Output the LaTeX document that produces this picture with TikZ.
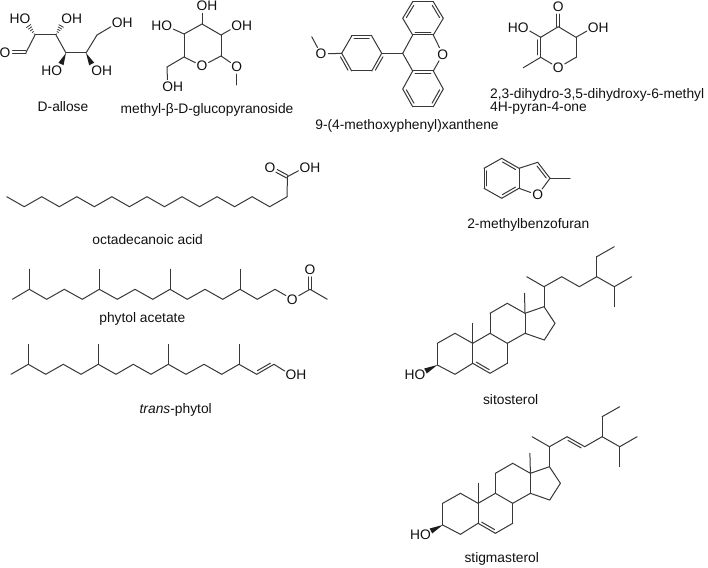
\documentclass[tikz,border=0pt]{standalone}
\usepackage{fontspec}
\setmainfont{Liberation Sans}
\usetikzlibrary{calc}
\definecolor{bondc}{HTML}{383838}
\definecolor{textc}{HTML}{111111}
\tikzset{
  bond/.style={draw=bondc,line width=1pt,line cap=round,line join=round},
  atom/.style={circle,inner sep=0pt,minimum size=14pt,text=textc,font=\fontsize{13.8}{15}\selectfont},
  lbl/.style={inner sep=0pt,text=textc,font=\fontsize{13.8}{15}\selectfont,text height=9.7pt,text depth=2.8pt},
}
% double bond, inner line to the left / right of the direction a->b (on screen)
\newcommand{\dbll}[2]{\draw[bond] (#1) -- (#2);
  \draw[bond,shorten <=2.5pt,shorten >=2.5pt] ($(#1)!2.8pt!90:(#2)$) -- ($(#2)!2.8pt!-90:(#1)$);}
\newcommand{\dblr}[2]{\draw[bond] (#1) -- (#2);
  \draw[bond,shorten <=2.5pt,shorten >=2.5pt] ($(#1)!2.8pt!-90:(#2)$) -- ($(#2)!2.8pt!90:(#1)$);}
% centred double bond from carbon to a labelled oxygen
\newcommand{\dco}[2]{
  \draw[bond,shorten >=7.5pt] ($(#1)!1.5pt!90:(#2)$) -- ($(#2)!1.5pt!-90:(#1)$);
  \draw[bond,shorten >=7.5pt] ($(#1)!1.5pt!-90:(#2)$) -- ($(#2)!1.5pt!90:(#1)$);}
% solid wedge and hashed wedge from a to b
\newcommand{\wdg}[2]{\fill[bondc!50!black] (#1) -- ($(#2)!2.8pt!90:(#1)$) -- ($(#2)!2.8pt!-90:(#1)$) -- cycle;}
\newcommand{\hsh}[2]{\foreach \t in {0.1,0.3,0.5,0.7,0.9}{
  \pgfmathsetmacro{\w}{2.9*\t+0.2}
  \coordinate (hp) at ($(#1)!\t!(#2)$);
  \draw[draw=bondc,line width=0.8pt] ($(hp)!\w pt!90:(#2)$) -- ($(hp)!\w pt!-90:(#2)$);}}
% chain through named coordinates
\newcommand{\pts}[2]{\foreach \n/\x/\y in {#2}{\coordinate (#1\n) at (\x,\y);}}
\newcommand{\bonds}[2]{\foreach \a/\b in {#2}{\draw[bond] (#1\a) -- (#1\b);}}
% steroid skeleton: prefix, shift, bond C22-C23
\newcommand{\steroid}[3]{
 \begin{scope}[shift={(#2)}]
  \pts{#1}{2/437.3/343.3,3/437.3/365,1/455/333.3,10/472.7/343.3,19/472.7/323.3,5/472.7/363.3,4/455/374.3,
   6/490/373.3,7/507.3/363.3,8/507.3/343.3,9/490/333.3,11/490/313.3,12/507.3/303.3,13/525/313.3,18/524.5/293.3,
   14/525/333.3,15/544.3/340,16/555/323.3,17/544/306.7,20/544/286.7,21/526.7/276.7,22/561.7/276.7,23/579.3/286.7,
   24/596.7/276.7,28/596.7/256.7,29/614.3/246.7,25/614.3/286.7,26/631.7/276.7,27/614.3/306.7,w/425.5/371}
 \end{scope}
 \bonds{#1}{3/2,2/1,1/10,10/19,10/5,3/4,4/5,6/7,7/8,8/9,9/10,9/11,11/12,12/13,13/18,13/14,14/8,14/15,15/16,16/17,17/13,17/20,20/21,20/22,23/24,24/28,28/29,24/25,25/26,25/27}
 \dbll{#15}{#16}
 #3
 \wdg{#13}{#1w}
}
\begin{document}
\begin{tikzpicture}[x=1pt,y=-1pt]
\useasboundingbox (0,0) rectangle (708,567);

% ---------- D-allose
\pts{al}{1/26/52.5,2/35/35,3/56/35,4/66/53,5/86/53,6/97/35,h2/28/25,h3/61.7/25,w4/61/64,w5/91.7/64}
\node[atom] (alO) at (5,52.5) {O};
\node[atom] (alO2) at (25,19) {\llap{H}O};
\node[atom] (alO3) at (66.7,19) {O\rlap{H}};
\node[atom] (alO4) at (56.7,71) {\llap{H}O};
\node[atom] (alO5) at (96.7,71) {O\rlap{H}};
\node[atom] (alO6) at (117.3,23) {O\rlap{H}};
\dco{al1}{alO}
\bonds{al}{1/2,2/3,3/4,4/5,5/6}
\draw[bond] (al6) -- (alO6);
\hsh{al2}{alh2} \hsh{al3}{alh3}
\wdg{al4}{alw4} \wdg{al5}{alw5}
\node[lbl] (allose) at (63,108) {D-allose};

% ---------- methyl-beta-D-glucopyranoside
\pts{gl}{1/221/56,2/221/35,3/202/24,4/184/34,5/184/57,6/167/67,m/236.7/85}
\node[atom] (glOr) at (202,66) {O};
\node[atom] (glO2) at (236.7,26) {O\rlap{H}};
\node[atom] (glO3) at (202,6) {O\rlap{H}};
\node[atom] (glO4) at (166.7,26) {\llap{H}O};
\node[atom] (glO6) at (167.7,87) {O\rlap{H}};
\node[atom] (glO1) at (236.7,66.7) {O};
\bonds{gl}{1/2,2/3,3/4,4/5,5/6}
\draw[bond] (gl5) -- (glOr);
\draw[bond] (glOr) -- (gl1);
\draw[bond] (gl2) -- (glO2);
\draw[bond] (gl3) -- (glO3);
\draw[bond] (gl4) -- (glO4);
\draw[bond] (gl6) -- (glO6);
\draw[bond] (gl1) -- (glO1);
\draw[bond] (glO1) -- (glm);
\node[lbl] (glucose) at (207,110) {methyl-β-D-glucopyranoside};

% ---------- 9-(4-methoxyphenyl)xanthene
\pts{x}{a/412.7/1.7,b/433.3/1.7,c/443.3/18.3,d/433.3/35,e/412.7/35,f/402.7/18.3,
  g/402.7/53.3,h/412.7/71,i/433.3/71,j/443.3/89,k/433.3/106.7,l/412.7/106.7,m/402.7/89,
  p/381.7/53.3,q/371.7/36,r/351.7/36,s/341.7/53.3,t/351.7/71,u/371.7/71,v/311.7/36.7}
\node[atom] (xO) at (442.7,54.3) {O};
\node[atom] (xO2) at (321,54) {O};
\bonds{x}{a/b,c/d,e/f,e/g,g/h,i/j,k/l,m/h,g/p,p/q,q/r,r/s,t/u}
\dblr{xf}{xa}\dblr{xb}{xc}\dblr{xd}{xe}
\draw[bond] (xd) -- (xO); \draw[bond] (xi) -- (xO);
\dblr{xh}{xi}\dblr{xj}{xk}\dblr{xl}{xm}
\dblr{xr}{xq}\dblr{xs}{xt}\dblr{xu}{xp}
\draw[bond] (xs) -- (xO2); \draw[bond] (xO2) -- (xv);
\node[lbl] (xanth) at (407,126) {9-(4-methoxyphenyl)xanthene};

% ---------- pyranone
\pts{py}{4/558.3/26.7,5/540.7/37.3,6/540.7/57.3,m/523.3/67.7,2/576/57.3,3/576/37.3}
\node[atom] (pyO) at (558.3,6.7) {O};
\node[atom] (pyO5) at (523.3,27.3) {\llap{H}O};
\node[atom] (pyO3) at (593.3,27.3) {O\rlap{H}};
\node[atom] (pyO1) at (558.3,67.7) {O};
\dco{py4}{pyO}
\bonds{py}{4/5,6/m,2/3,3/4}
\dblr{py5}{py6}
\draw[bond] (py5) -- (pyO5);
\draw[bond] (py3) -- (pyO3);
\draw[bond] (py6) -- (pyO1);
\draw[bond] (pyO1) -- (py2);
\node[lbl,anchor=west] (pyt1) at (490,95) {2,3-dihydro-3,5-dihydroxy-6-methyl};
\node[lbl,anchor=west] (pyt2) at (490,108) {4H-pyran-4-one};

% ---------- octadecanoic acid
\foreach \i in {0,...,16}{
  \pgfmathsetmacro{\yy}{196.7+10*mod(\i,2)}
  \coordinate (oa\i) at ({6.7+17.53*\i},\yy);}
\coordinate (oa17) at (287.3,176.7);
\foreach \i [count=\j from 1] in {0,...,16}{\draw[bond] (oa\i) -- (oa\j);}
\node[atom] (oaO) at (270,167.3) {O};
\node[atom] (oaOH) at (305,167.3) {O\rlap{H}};
\dco{oa17}{oaO}
\draw[bond] (oa17) -- (oaOH);
\node[lbl] (octa) at (147.7,241) {octadecanoic acid};

% ---------- phytol acetate
\pts{pa}{0/12.3/299.3,1/29.3/289.3,2/46.7/299.3,3/64.3/289.3,4/82.3/299.3,5/99.3/289.3,6/117.3/299.3,7/135/289.3,
  8/152.7/299.3,9/170/289.3,10/187.3/299.3,11/205/289.3,12/222.7/299.3,13/240/289.3,14/257.3/299.3,15/275/289.3,
  a/29.3/269.3,b/99.3/269.3,c/170/269.3,d/240/269.3,e/310/289.3,f/327.3/299.3}
\node[atom] (paO) at (292.3,299.3) {O};
\node[atom] (paO2) at (310,269.3) {O};
\bonds{pa}{0/1,1/2,2/3,3/4,4/5,5/6,6/7,7/8,8/9,9/10,10/11,11/12,12/13,13/14,14/15,1/a,5/b,9/c,13/d,e/f}
\draw[bond] (pa15) -- (paO);
\draw[bond] (paO) -- (pae);
\dco{pae}{paO2}
\node[lbl] (pact) at (142.3,319) {phytol acetate};

% ---------- trans-phytol
\pts{tp}{0/11/374.3,1/28.3/364.3,2/45.7/374.3,3/63.3/364.3,4/81/374.3,5/98.3/364.3,6/116/374.3,7/133.3/364.3,
  8/151/374.3,9/168.3/364.3,10/186/374.3,11/204/364.3,12/221.7/374.3,13/239/364.3,14/256.7/374.3,15/274/364.3,
  a/28.3/344.3,b/98.3/344.3,c/168.3/344.3,d/239/344.3}
\node[atom] (tpO) at (291,375) {O\rlap{H}};
\bonds{tp}{0/1,1/2,2/3,3/4,4/5,5/6,6/7,7/8,8/9,9/10,10/11,11/12,12/13,13/14,1/a,5/b,9/c,13/d}
\dbll{tp14}{tp15}
\draw[bond] (tp15) -- (tpO);
\node[lbl] (tphy) at (175.7,410) {\textit{trans}-phytol};

% ---------- 2-methylbenzofuran
\pts{bf}{a/484/168.3,b/501.7/158.3,c/519/168.3,d/519/188.3,e/501.7/198.3,f/484/188.3,g/537.7/162.3,h/550/178.3,m/570/178.3}
\node[atom] (bfO) at (537.7,195) {O};
\bonds{bf}{a/b,c/d,e/f,c/g,h/m}
\dblr{bfb}{bfc}\dblr{bfd}{bfe}\dblr{bff}{bfa}
\dblr{bfg}{bfh}
\draw[bond] (bfd) -- (bfO);
\draw[bond] (bfO) -- (bfh);
\node[lbl] (bft) at (528.3,225) {2-methylbenzofuran};

% ---------- sitosterol
\steroid{si}{0,0}{\draw[bond] (si22) -- (si23);}
\node[atom] (siO) at (420,375) {\llap{H}O};
\node[lbl] (sit) at (510.7,401) {sitosterol};

% ---------- stigmasterol
\steroid{st}{5.4,160}{\dblr{st22}{st23}}
\node[atom] (stO) at (425.4,535) {\llap{H}O};
\node[lbl] (stt) at (501.7,559) {stigmasterol};
\end{tikzpicture}
\end{document}
